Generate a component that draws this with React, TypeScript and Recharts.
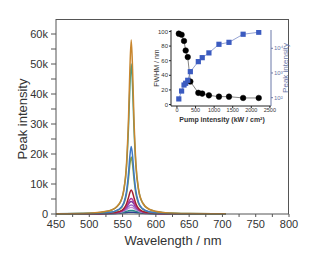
import { LineChart, Line, XAxis, YAxis, ComposedChart } from 'recharts';

// main spectra: wavelength (nm) and peak intensity per pump level
const WAVELENGTH = [450, 500, 530, 545, 552, 556, 559, 561, 563, 565, 567, 570, 574, 580, 590, 610, 650, 705];

const S_NAVY = [12, 32, 103, 245, 390, 493, 560, 590, 600, 590, 560, 493, 390, 263, 143, 55, 17, 7];
const S_TEAL_DARK = [15, 42, 140, 370, 652, 895, 1080, 1165, 1200, 1165, 1080, 895, 652, 400, 198, 73, 22, 9];
const S_LAVENDER = [18, 55, 185, 520, 995, 1475, 1900, 2115, 2200, 2115, 1900, 1475, 995, 565, 265, 95, 28, 11];
const S_VIOLET = [20, 60, 210, 600, 1200, 1870, 2500, 2860, 3000, 2860, 2500, 1870, 1200, 660, 300, 107, 30, 12];
const S_PURPLE = [20, 67, 233, 690, 1450, 2370, 3360, 3950, 4200, 3950, 3360, 2370, 1450, 760, 340, 120, 35, 13];
const S_MAGENTA = [28, 64, 224, 680, 1500, 2600, 3910, 4810, 5200, 4810, 3910, 2600, 1500, 750, 327, 115, 34, 13];
const S_RED = [30, 70, 256, 800, 1830, 3390, 5550, 7200, 8000, 7200, 5550, 3390, 1830, 890, 376, 128, 40, 15];
const S_OLIVE = [55, 130, 463, 1460, 3470, 6760, 11950, 16550, 19000, 16550, 11950, 6760, 3470, 1620, 680, 230, 70, 28];
const S_BLUE = [60, 140, 505, 1610, 3850, 7600, 13700, 19400, 22500, 19400, 13700, 7600, 3850, 1780, 750, 250, 75, 30];
const S_TEAL = [85, 280, 1035, 3300, 8000, 16000, 29500, 42600, 50000, 42600, 29500, 16000, 8000, 3700, 1530, 515, 150, 55];
const S_ORANGE = [90, 290, 1060, 3400, 8300, 17000, 32400, 48400, 58000, 48400, 32400, 17000, 8300, 3800, 1570, 530, 155, 60];

const X_TICKS = [450, 475, 500, 525, 550, 575, 600, 625, 650, 675, 700, 725, 750, 775, 800];
const Y_TICKS = [0, 5000, 10000, 15000, 20000, 25000, 30000, 35000, 40000, 45000, 50000, 55000, 60000];

// inset: pump intensity vs FWHM and peak intensity
const PUMP = [50, 125, 190, 235, 290, 360, 575, 680, 860, 1130, 1400, 1780, 2200];
const FWHM = [97, 95.5, 87, 74, 65, 31.5, 16, 15, 12.6, 10.8, 10.8, 9, 9];
const PEAK = [89, 186, 326, 383, 505, 1130, 2880, 4170, 6500, 14500, 17400, 37000, 44600];

const INSET_X_TICKS = [0, 500, 1000, 1500, 2000, 2500];
const INSET_Y_TICKS = [0, 20, 40, 60, 80, 100];
const INSET_LOG_TICKS = [100, 1000, 10000];

const SERIES = [
  { key: 'navy', values: S_NAVY, color: '#2E3F8F' },
  { key: 'tealDark', values: S_TEAL_DARK, color: '#2A8A8A' },
  { key: 'lavender', values: S_LAVENDER, color: '#C08ED2' },
  { key: 'violet', values: S_VIOLET, color: '#9A68C8' },
  { key: 'purple', values: S_PURPLE, color: '#7A3A9E' },
  { key: 'magenta', values: S_MAGENTA, color: '#B03AA0' },
  { key: 'red', values: S_RED, color: '#A41E2E' },
  { key: 'olive', values: S_OLIVE, color: '#8AA040' },
  { key: 'blue', values: S_BLUE, color: '#3C78C8' },
  { key: 'teal', values: S_TEAL, color: '#3E9C88' },
  { key: 'orange', values: S_ORANGE, color: '#C8862E' },
];

const spectra = WAVELENGTH.map((wl, i) => {
  const row: Record<string, number> = { wl };
  SERIES.forEach(s => { row[s.key] = s.values[i]; });
  return row;
});

const insetData = PUMP.map((pump, i) => ({ pump, fwhm: FWHM[i], peak: PEAK[i] }));

const FONT = '"Liberation Sans", Arial, sans-serif';
const TEXT = '#333';
const AXIS = '#555';
const INSET_BLUE = '#6A78A8';

const sup = (v: number) => (v === 100 ? '10²' : v === 1000 ? '10³' : '10⁴');

const Square = (props: any) => {
  const { cx, cy } = props;
  if (cx == null || cy == null) return null;
  return <rect x={cx - 2.6} y={cy - 2.6} width={5.2} height={5.2} fill="#3B5BC0" />;
};

export default function App() {
  return (
    <div style={{ position: 'absolute', left: 0, top: 0, width: 309, height: 257, background: '#fff', fontFamily: FONT }}>
      <LineChart
        width={309}
        height={257}
        data={spectra}
        margin={{ top: 19, right: 20, bottom: 0, left: 10 }}
      >
        <XAxis
          dataKey="wl"
          type="number"
          domain={[450, 800]}
          ticks={X_TICKS}
          interval={0}
          height={43}
          tickSize={3}
          tickMargin={3}
          stroke={AXIS}
          tick={{ fontSize: 11, fill: TEXT, fontFamily: FONT }}
          tickFormatter={(v: number) => (v % 50 === 0 ? String(v) : '')}
        />
        <YAxis
          type="number"
          domain={[0, 65000]}
          ticks={Y_TICKS}
          interval={0}
          width={46}
          tickSize={5}
          tickMargin={3}
          stroke={AXIS}
          tick={{ fontSize: 11, fill: TEXT, fontFamily: FONT }}
          tickFormatter={(v: number) => (v === 0 ? '0' : v % 10000 === 0 ? `${v / 1000}k` : '')}
        />
        {SERIES.map(s => (
          <Line
            key={s.key}
            dataKey={s.key}
            type="monotone"
            stroke={s.color}
            strokeWidth={1.5}
            dot={false}
            isAnimationActive={false}
          />
        ))}
      </LineChart>

      {/* top/right frame of the main plot */}
      <div
        style={{
          position: 'absolute',
          left: 56,
          top: 19,
          width: 233,
          height: 195,
          boxSizing: 'border-box',
          borderTop: `1px solid ${AXIS}`,
          borderRight: `1px solid ${AXIS}`,
          pointerEvents: 'none',
        }}
      />

      <div style={{ position: 'absolute', left: 140, top: 20 }}>
        <ComposedChart
          width={160}
          height={110}
          data={insetData}
          margin={{ top: 10, right: 6, bottom: 10, left: 6 }}
        >
          <XAxis
            dataKey="pump"
            type="number"
            domain={[-160, 2530]}
            ticks={INSET_X_TICKS}
            interval={0}
            height={14}
            tickSize={2}
            tickMargin={0}
            stroke="#222"
            tick={{ fontSize: 5.5, fill: TEXT, fontFamily: FONT }}
          />
          <YAxis
            yAxisId="left"
            type="number"
            domain={[-2, 102]}
            ticks={INSET_Y_TICKS}
            interval={0}
            width={25}
            tickSize={2}
            tickMargin={1}
            stroke="#222"
            tick={{ fontSize: 6, fill: TEXT, fontFamily: FONT }}
          />
          <YAxis
            yAxisId="right"
            orientation="right"
            scale="log"
            type="number"
            domain={[46, 55000]}
            ticks={INSET_LOG_TICKS}
            interval={0}
            allowDataOverflow
            width={23}
            tickSize={2}
            tickMargin={1}
            stroke={INSET_BLUE}
            tick={{ fontSize: 6, fill: INSET_BLUE, fontFamily: FONT }}
            tickFormatter={sup}
          />
          <Line
            yAxisId="left"
            dataKey="fwhm"
            type="linear"
            stroke="#666"
            strokeWidth={0.8}
            dot={{ r: 2.8, fill: '#000', stroke: '#000', strokeWidth: 0.5 }}
            isAnimationActive={false}
          />
          <Line
            yAxisId="right"
            dataKey="peak"
            type="linear"
            stroke="#7A8CC8"
            strokeWidth={0.8}
            dot={<Square />}
            isAnimationActive={false}
          />
        </ComposedChart>
      </div>

      {/* axis titles */}
      <svg
        width={309}
        height={257}
        style={{ position: 'absolute', left: 0, top: 0, pointerEvents: 'none' }}
        fontFamily={FONT}
      >
        <text x={173} y={245} textAnchor="middle" fontSize={13} fill={TEXT}>Wavelength / nm</text>
        <text
          x={0}
          y={0}
          transform="translate(27,119) rotate(-90)"
          textAnchor="middle"
          fontSize={13}
          fill={TEXT}
        >
          Peak intensity
        </text>
        <text
          x={0}
          y={0}
          transform="translate(159,68) rotate(-90)"
          textAnchor="middle"
          fontSize={7}
          fill={TEXT}
        >
          FWHM / nm
        </text>
        <text
          x={0}
          y={0}
          transform="translate(288,68) rotate(-90)"
          textAnchor="middle"
          fontSize={8}
          fill={INSET_BLUE}
        >
          Peak intensity
        </text>
        <text x={222} y={122} textAnchor="middle" fontSize={7} fontWeight="bold" fill={TEXT}>
          Pump intensity (kW / cm²)
        </text>
      </svg>
    </div>
  );
}
